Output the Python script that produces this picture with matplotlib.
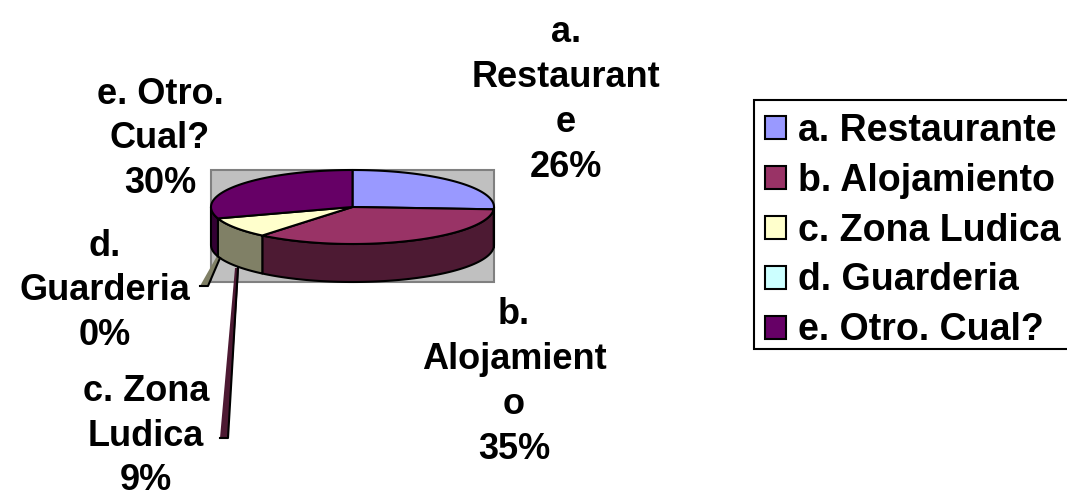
import numpy as np
import matplotlib
matplotlib.use("Agg")
from matplotlib import pyplot as plt
from matplotlib.patches import Patch, Rectangle

plt.rcParams['font.family'] = ['Liberation Sans', 'DejaVu Sans']

categories = ['a. Restaurante', 'b. Alojamiento', 'c. Zona Ludica', 'd. Guarderia', 'e. Otro. Cual?']
shares = [26, 35, 9, 0, 30]
top_colors = ['#9999FF', '#993366', '#FFFFCC', '#CCFFFF', '#660066']
side_colors = ['#4D4D80', '#4D1A33', '#808066', '#668080', '#330033']
wrapped_labels = ['a.\nRestaurant\ne\n26%', 'b.\nAlojamient\no\n35%', 'c. Zona\nLudica\n9%',
                  'd.\nGuarderia\n0%', 'e. Otro.\nCual?\n30%']

# pie geometry in pixels, same as the picture
cx, cy = 352.5, 207
rx, ry = 141.5, 37
depth = 38
fs = 26

fig = plt.figure(figsize=(10.67, 4.99), dpi=100)
ax = fig.add_axes([0, 0, 1, 1])
ax.set_xlim(0, 1067)
ax.set_ylim(499, 0)
ax.axis('off')


def rim(a0, a1, n=80):
    # angles clockwise from 12 o'clock
    t = np.radians(np.linspace(a0, a1, n))
    return cx + rx * np.sin(t), cy - ry * np.cos(t)


ax.add_patch(Rectangle((cx - rx, cy - ry), 2 * rx, ry * 2 + depth, fc='#C0C0C0', ec='#808080', lw=1.5))

# leader lines sit behind the pie
ax.fill([217, 220, 208, 200], [256, 256, 286, 286], fc='#808066', ec='none')
ax.plot([220, 208, 200], [258, 286, 286], color='black', lw=1.5)
ax.fill([235, 239, 228, 220], [268, 268, 438, 438], fc='#4D1A33', ec='none')
ax.plot([238, 228, 220], [268, 438, 438], color='black', lw=1.5)

edges = np.cumsum([0] + shares) / sum(shares) * 360

# side walls first, only the front half shows
for i in range(len(shares)):
    a0, a1 = max(edges[i], 90), min(edges[i + 1], 270)
    if a1 <= a0:
        continue
    x, y = rim(a0, a1)
    ax.fill(np.r_[x, x[::-1]], np.r_[y, y[::-1] + depth], fc=side_colors[i], ec='black', lw=1.5, joinstyle='round')

for i in range(len(shares)):
    if shares[i] == 0:
        continue
    x, y = rim(edges[i], edges[i + 1])
    ax.fill(np.r_[cx, x], np.r_[cy, y], fc=top_colors[i], ec='black', lw=1.5, joinstyle='round')

label_pos = [(566, 100), (514, 382), (146, 436), (105, 291), (160, 139)]
for txt, (lx, ly) in zip(wrapped_labels, label_pos):
    ax.text(lx, ly, txt, ha='center', va='center', fontsize=fs, fontweight='bold', linespacing=1.37)

# frame runs off the right edge of the picture, so it is drawn apart from the legend
ax.add_patch(Rectangle((754, 100), 340, 249, fc='white', ec='black', lw=1.5))
handles = [Patch(fc=c, ec='black', lw=1.5) for c in top_colors]
ax.legend(handles, categories, loc='upper left', bbox_to_anchor=(754 / 1067, 1 - 102 / 499),
          borderaxespad=0, frameon=False, prop={'size': 27, 'weight': 'bold'},
          handlelength=0.56, handleheight=0.56, handletextpad=0.32, labelspacing=0.37, borderpad=0.29)

fig.savefig('out.png', dpi=100)
